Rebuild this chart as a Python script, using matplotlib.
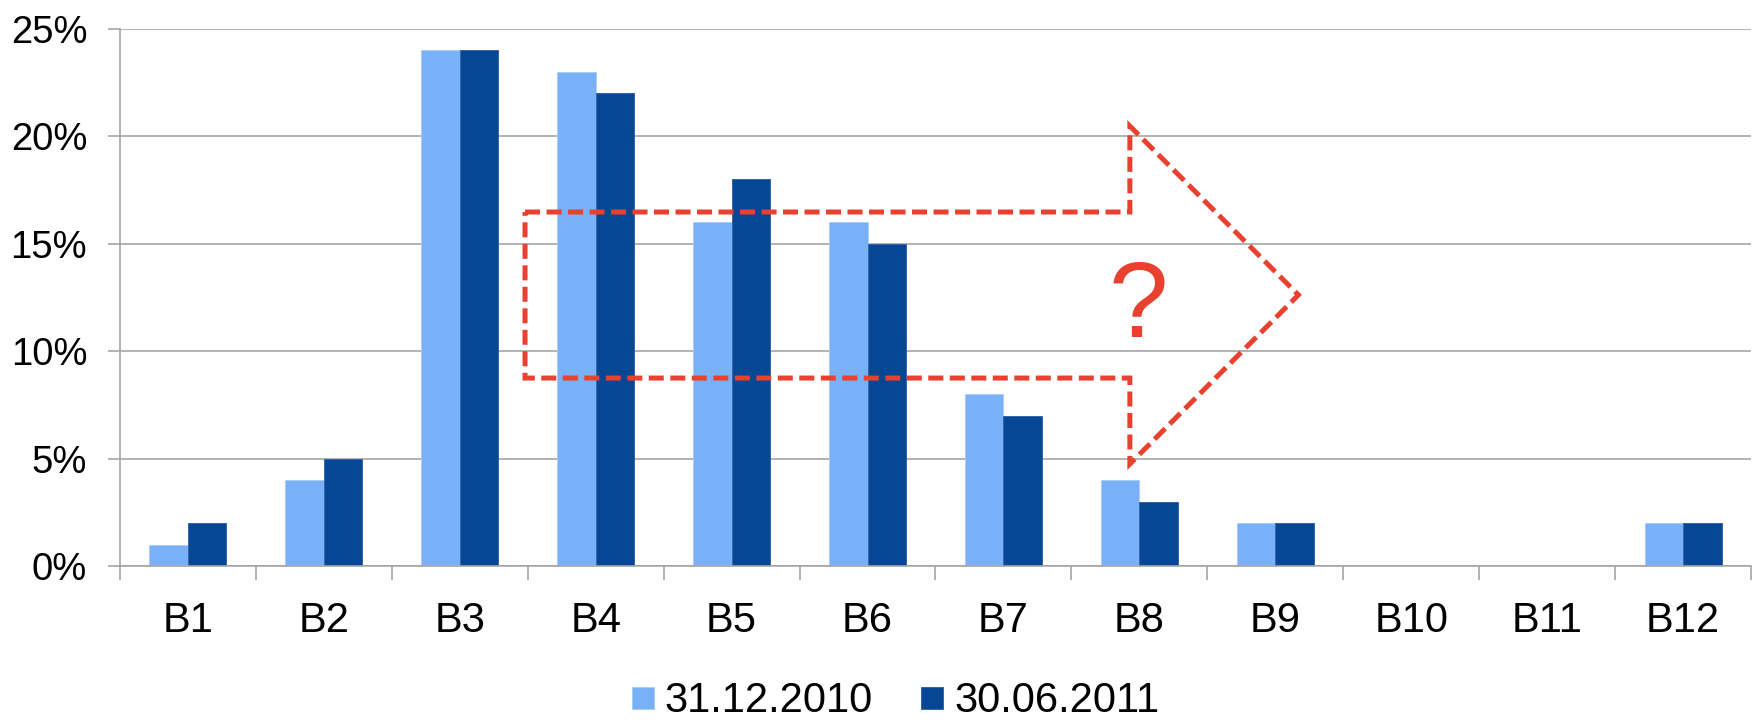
import numpy as np
import matplotlib.pyplot as plt
from matplotlib.patches import Polygon

plt.rcParams['font.family'] = ['Liberation Sans', 'DejaVu Sans']

# dati (percentuali)
categories = ['B1', 'B2', 'B3', 'B4', 'B5', 'B6', 'B7', 'B8', 'B9', 'B10', 'B11', 'B12']
dec_2010 = [1, 4, 24, 23, 16, 16, 8, 4, 2, 0, 0, 2]
jun_2011 = [2, 5, 24, 22, 18, 15, 7, 3, 2, 0, 0, 2]
series_labels = ['31.12.2010', '30.06.2011']
y_ticks = [0, 5, 10, 15, 20, 25]

# freccia tratteggiata (coordinate in unita' dei dati)
arrow_x = [2.48, 6.93, 6.93, 8.17, 6.93, 6.93, 2.48]
arrow_y = [16.48, 16.48, 20.48, 12.62, 4.75, 8.75, 8.75]

light = '#79B1F8'
dark = '#054695'
red = '#E8412F'
grey = '#A6A6A6'

fig = plt.figure(figsize=(17.56, 7.2), dpi=100)
ax = fig.add_axes([120 / 1756, 154 / 720, 1631 / 1756, 537 / 720])

x = np.arange(len(categories))
w = 0.283
b1 = ax.bar(x - w / 2, dec_2010, w, color=light, edgecolor='#A9CCF9', linewidth=0.7,
            zorder=2, label=series_labels[0])
b2 = ax.bar(x + w / 2, jun_2011, w, color=dark, edgecolor='#3566A8', linewidth=0.7,
            zorder=2, label=series_labels[1])

ax.set_xlim(-0.5, len(categories) - 0.5)
ax.set_ylim(0, 25)

# griglia e assi
ax.set_yticks(y_ticks)
ax.set_yticklabels([f'{t}%' for t in y_ticks], fontsize=27.5)
ax.yaxis.grid(True, color=grey, linewidth=1.2, zorder=0)
ax.set_axisbelow(True)
ax.tick_params(axis='y', length=8.6, width=1.2, color=grey, pad=15)

ax.set_xticks(x)
ax.set_xticklabels(categories, fontsize=30)
ax.set_xticks(np.arange(-0.5, len(categories), 1), minor=True)
ax.tick_params(axis='x', which='major', length=0, pad=25)
ax.tick_params(axis='x', which='minor', length=10, width=1.2, color=grey)

for s in ['top', 'right']:
    ax.spines[s].set_visible(False)
for s in ['left', 'bottom']:
    ax.spines[s].set_color(grey)
    ax.spines[s].set_linewidth(1.2)

# freccia con punto interrogativo
arrow = Polygon(np.column_stack([arrow_x, arrow_y]), closed=True, fill=False,
                edgecolor=red, linewidth=3.6, linestyle=(0, (3, 1.3)),
                joinstyle='miter', zorder=5, clip_on=False)
ax.add_patch(arrow)
ax.text(6.99, 10.66, '?', color=red, fontsize=77, ha='center', va='baseline', zorder=6)

fig.legend(handles=[b1, b2], labels=series_labels, loc='lower center',
           bbox_to_anchor=(0.51, -0.002), ncol=2, frameon=False, fontsize=30,
           handlelength=0.53, handleheight=0.44, handletextpad=0.26,
           columnspacing=1.15, borderpad=0, borderaxespad=0)

plt.savefig('out.png', dpi=100)
